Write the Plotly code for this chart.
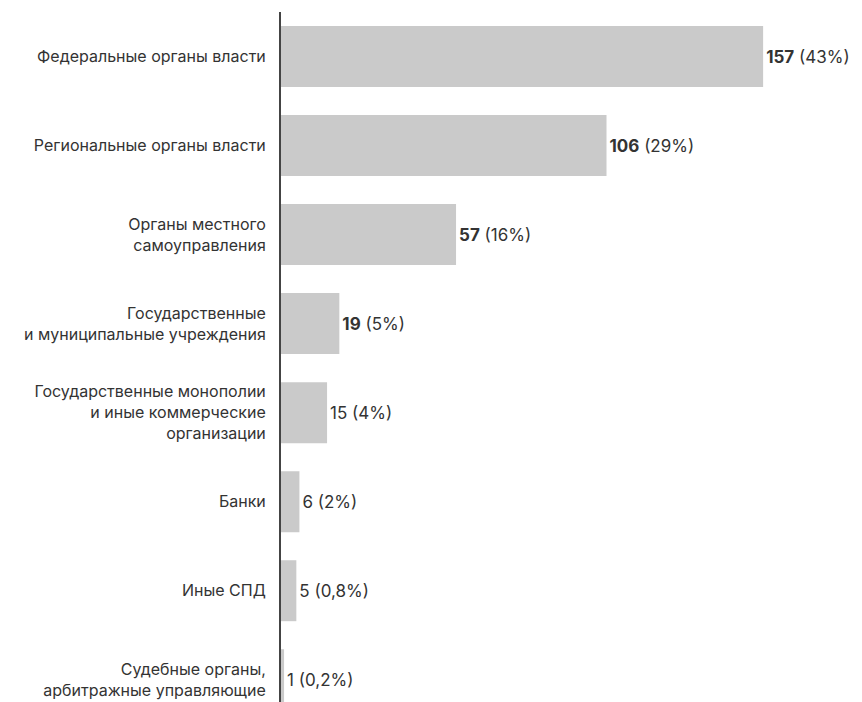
import plotly.graph_objects as go

categories = [
    "Федеральные органы власти",
    "Региональные органы власти",
    "Органы местного<br>самоуправления",
    "Государственные<br>и муниципальные учреждения",
    "Государственные монополии<br>и иные коммерческие<br>организации",
    "Банки",
    "Иные СПД",
    "Судебные органы,<br>арбитражные управляющие",
]
values = [157, 106, 57, 19, 15, 6, 5, 1]
percents = ["43%", "29%", "16%", "5%", "4%", "2%", "0,8%", "0,2%"]
bold_flags = [True, True, True, True, False, False, False, False]

labels = []
for v, p, b in zip(values, percents, bold_flags):
    num = f"<b>{v}</b>" if b else f"{v}"
    labels.append(f"{num} ({p})")

idx = list(range(len(categories)))

fig = go.Figure(go.Bar(
    x=values,
    y=idx,
    orientation="h",
    width=0.685,
    marker=dict(color="#cacaca", line=dict(width=0)),
    text=labels,
    textposition="outside",
    textfont=dict(size=17, color="#333333", family="Inter"),
    cliponaxis=False,
    hoverinfo="skip",
))

fig.update_layout(
    width=854, height=694,
    margin=dict(l=273, r=0, t=4, b=0),
    paper_bgcolor="white", plot_bgcolor="white",
    font=dict(family="Inter", color="#333333"),
    showlegend=False,
    xaxis=dict(range=[0, 189.2], visible=False, showgrid=False, zeroline=False),
    yaxis=dict(
        range=[7.25, -0.5],
        tickvals=idx,
        ticktext=categories,
        tickfont=dict(size=16, color="#333333", family="Inter"),
        showline=True, linecolor="#444444", linewidth=2,
        showgrid=False, zeroline=False, automargin=False,
        ticks="", ticklabelstandoff=10,
    ),
)

fig.write_html("out.html")
